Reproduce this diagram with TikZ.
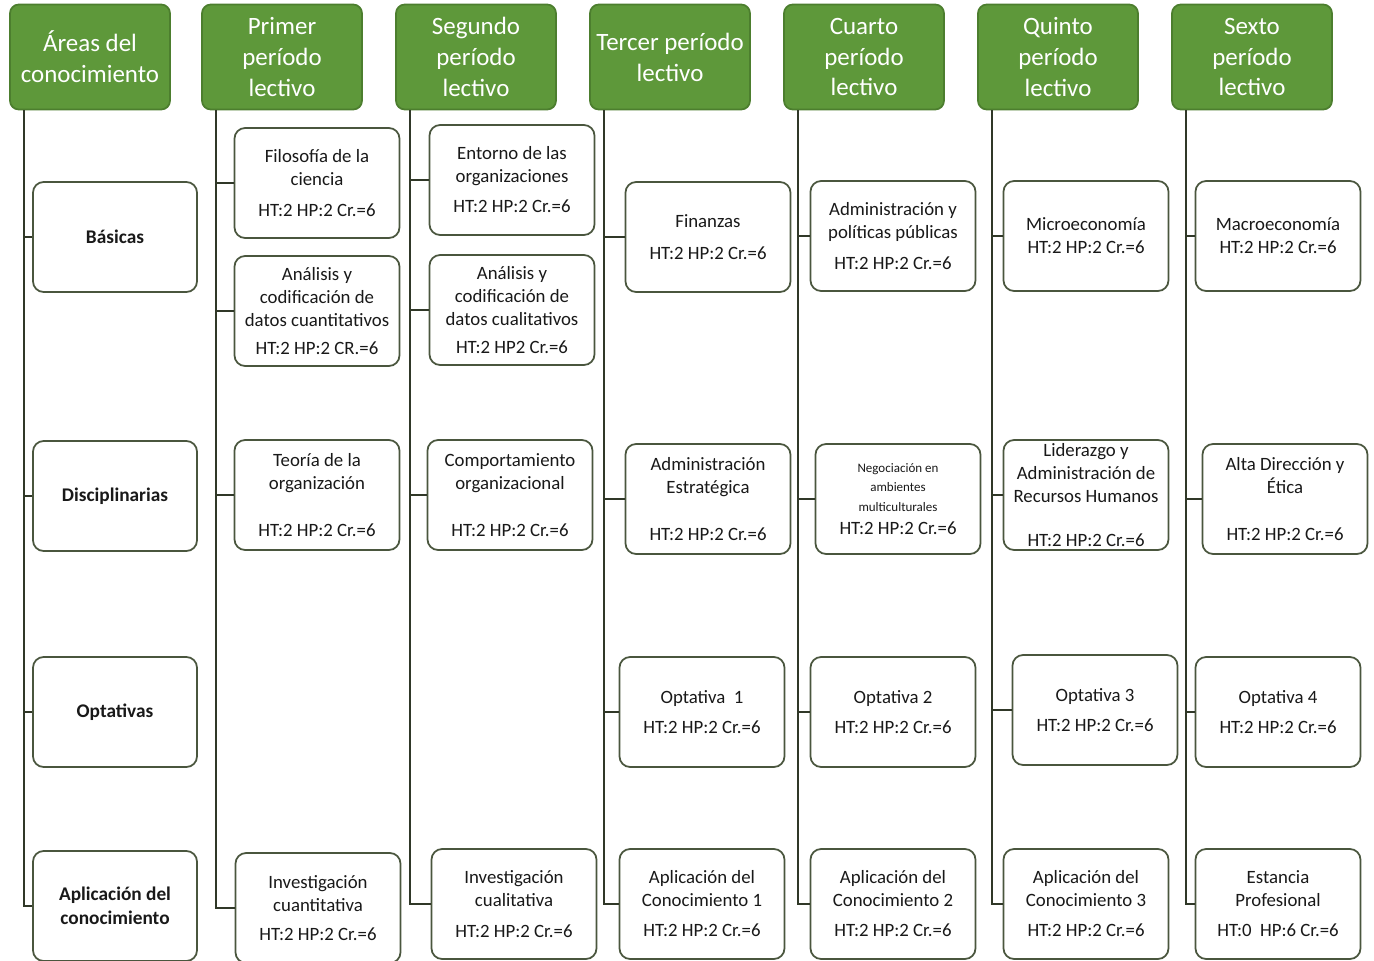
\documentclass[tikz,border=0pt]{standalone}
\usepackage{fontspec}
\setmainfont{Carlito}

\definecolor{hdrgreen}{RGB}{94,152,58}
\definecolor{hdredge}{RGB}{76,126,46}
\definecolor{boxedge}{RGB}{74,86,62}
\definecolor{spinecol}{RGB}{48,56,40}

\newcommand{\smalltxt}[1]{{\fontsize{7.4}{9}\selectfont #1}}

\tikzset{
  hdr/.style={draw=hdredge, fill=hdrgreen, rounded corners=5pt, line width=1pt,
    minimum width=3.2cm, minimum height=2.1cm, align=center, text=white,
    inner sep=1pt, font=\fontsize{14.2}{17.6}\selectfont},
  area/.style={draw=boxedge, fill=white, rounded corners=6pt, line width=1pt,
    minimum width=3.28cm, minimum height=2.2cm, align=center, text=black!90,
    inner sep=1pt, font=\fontsize{11}{13.5}\selectfont\bfseries},
  course/.style={area, minimum width=3.3cm, font=\fontsize{10.7}{13.1}\selectfont},
  link/.style={draw=spinecol, line width=1.2pt},
}

\begin{document}
\begin{tikzpicture}[x=0.02cm, y=-0.02cm]

  \useasboundingbox (0,0) rectangle (1374,961);

  % headers
  \node[hdr] (hA) at (90,57)   {Áreas del\\conocimiento};
  \node[hdr] (h1) at (282,57)  {Primer\\período\\lectivo};
  \node[hdr] (h2) at (476,57)  {Segundo\\período\\lectivo};
  \node[hdr] (h3) at (670,57)  {Tercer período\\lectivo};
  \node[hdr] (h4) at (864,57)  {Cuarto\\período\\lectivo};
  \node[hdr] (h5) at (1058,57) {Quinto\\período\\lectivo};
  \node[hdr] (h6) at (1252,57) {Sexto\\período\\lectivo};

  \coordinate (sA) at (24,110);
  \coordinate (s1) at (216,110);
  \coordinate (s2) at (410,110);
  \coordinate (s3) at (604,110);
  \coordinate (s4) at (798,110);
  \coordinate (s5) at (992,110);
  \coordinate (s6) at (1186,110);

  % areas
  \node[area] (basicas) at (115,237) {Básicas};
  \node[area] (discip)  at (115,496) {Disciplinarias};
  \node[area] (optat)   at (115,712) {Optativas};
  \node[area] (aplic)   at (115,906) {Aplicación del\\conocimiento};

  % primer periodo
  \node[course] (c11) at (317,183) {Filosofía de la\\ciencia\\[5pt]HT:2 HP:2 Cr.=6};
  \node[course] (c12) at (317,311) {Análisis y\\codificación de\\datos cuantitativos\\[3pt]HT:2 HP:2 CR.=6};
  \node[course] (c13) at (317,495) {Teoría de la\\organización\\[14pt]HT:2 HP:2 Cr.=6};
  \node[course] (c14) at (318,908) {Investigación\\cuantitativa\\[3pt]HT:2 HP:2 Cr.=6};

  % segundo periodo
  \node[course] (c21) at (512,180) {Entorno de las\\organizaciones\\[4pt]HT:2 HP:2 Cr.=6};
  \node[course] (c22) at (512,310) {Análisis y\\codificación de\\datos cualitativos\\[3pt]HT:2 HP2 Cr.=6};
  \node[course] (c23) at (510,495) {Comportamiento\\organizacional\\[14pt]HT:2 HP:2 Cr.=6};
  \node[course] (c24) at (514,904) {Investigación\\cualitativa\\[5pt]HT:2 HP:2 Cr.=6};

  % tercer periodo
  \node[course] (c31) at (708,237) {Finanzas\\[5pt]HT:2 HP:2 Cr.=6};
  \node[course] (c32) at (708,499) {Administración\\Estratégica\\[14pt]HT:2 HP:2 Cr.=6};
  \node[course] (c33) at (702,712) {Optativa~~1\\[4pt]HT:2 HP:2 Cr.=6};
  \node[course] (c34) at (702,904) {Aplicación del\\Conocimiento 1\\[4pt]HT:2 HP:2 Cr.=6};

  % cuarto periodo
  \node[course] (c41) at (893,236) {Administración y\\políticas públicas\\[5pt]HT:2 HP:2 Cr.=6};
  \node[course] (c42) at (898,499) {\smalltxt{Negociación en}\\[-2pt]\smalltxt{ambientes}\\[-2pt]\smalltxt{multiculturales}\\HT:2 HP:2 Cr.=6};
  \node[course] (c43) at (893,712) {Optativa 2\\[4pt]HT:2 HP:2 Cr.=6};
  \node[course] (c44) at (893,904) {Aplicación del\\Conocimiento 2\\[4pt]HT:2 HP:2 Cr.=6};

  % quinto periodo
  \node[course] (c51) at (1086,236) {Microeconomía\\HT:2 HP:2 Cr.=6};
  \node[course] (c52) at (1086,495) {Liderazgo y\\Administración de\\Recursos Humanos\\[12pt]HT:2 HP:2 Cr.=6};
  \node[course] (c53) at (1095,710) {Optativa 3\\[4pt]HT:2 HP:2 Cr.=6};
  \node[course] (c54) at (1086,904) {Aplicación del\\Conocimiento 3\\[4pt]HT:2 HP:2 Cr.=6};

  % sexto periodo
  \node[course] (c61) at (1278,236) {Macroeconomía\\HT:2 HP:2 Cr.=6};
  \node[course] (c62) at (1285,499) {Alta Dirección y\\Ética\\[14pt]HT:2 HP:2 Cr.=6};
  \node[course] (c63) at (1278,712) {Optativa 4\\[4pt]HT:2 HP:2 Cr.=6};
  \node[course] (c64) at (1278,904) {Estancia\\Profesional\\[4pt]HT:0~~HP:6 Cr.=6};

  % spines
  \draw[link] (sA) |- (aplic.west);
  \draw[link] (sA |- basicas.west) -- (basicas.west);
  \draw[link] (sA |- discip.west) -- (discip.west);
  \draw[link] (sA |- optat.west) -- (optat.west);

  \draw[link] (s1) |- (c14.west);
  \draw[link] (s1 |- c11.west) -- (c11.west);
  \draw[link] (s1 |- c12.west) -- (c12.west);
  \draw[link] (s1 |- c13.west) -- (c13.west);

  \draw[link] (s2) |- (c24.west);
  \draw[link] (s2 |- c21.west) -- (c21.west);
  \draw[link] (s2 |- c22.west) -- (c22.west);
  \draw[link] (s2 |- c23.west) -- (c23.west);

  \draw[link] (s3) |- (c34.west);
  \draw[link] (s3 |- c31.west) -- (c31.west);
  \draw[link] (s3 |- c32.west) -- (c32.west);
  \draw[link] (s3 |- c33.west) -- (c33.west);

  \draw[link] (s4) |- (c44.west);
  \draw[link] (s4 |- c41.west) -- (c41.west);
  \draw[link] (s4 |- c42.west) -- (c42.west);
  \draw[link] (s4 |- c43.west) -- (c43.west);

  \draw[link] (s5) |- (c54.west);
  \draw[link] (s5 |- c51.west) -- (c51.west);
  \draw[link] (s5 |- c52.west) -- (c52.west);
  \draw[link] (s5 |- c53.west) -- (c53.west);

  \draw[link] (s6) |- (c64.west);
  \draw[link] (s6 |- c61.west) -- (c61.west);
  \draw[link] (s6 |- c62.west) -- (c62.west);
  \draw[link] (s6 |- c63.west) -- (c63.west);

\end{tikzpicture}
\end{document}
